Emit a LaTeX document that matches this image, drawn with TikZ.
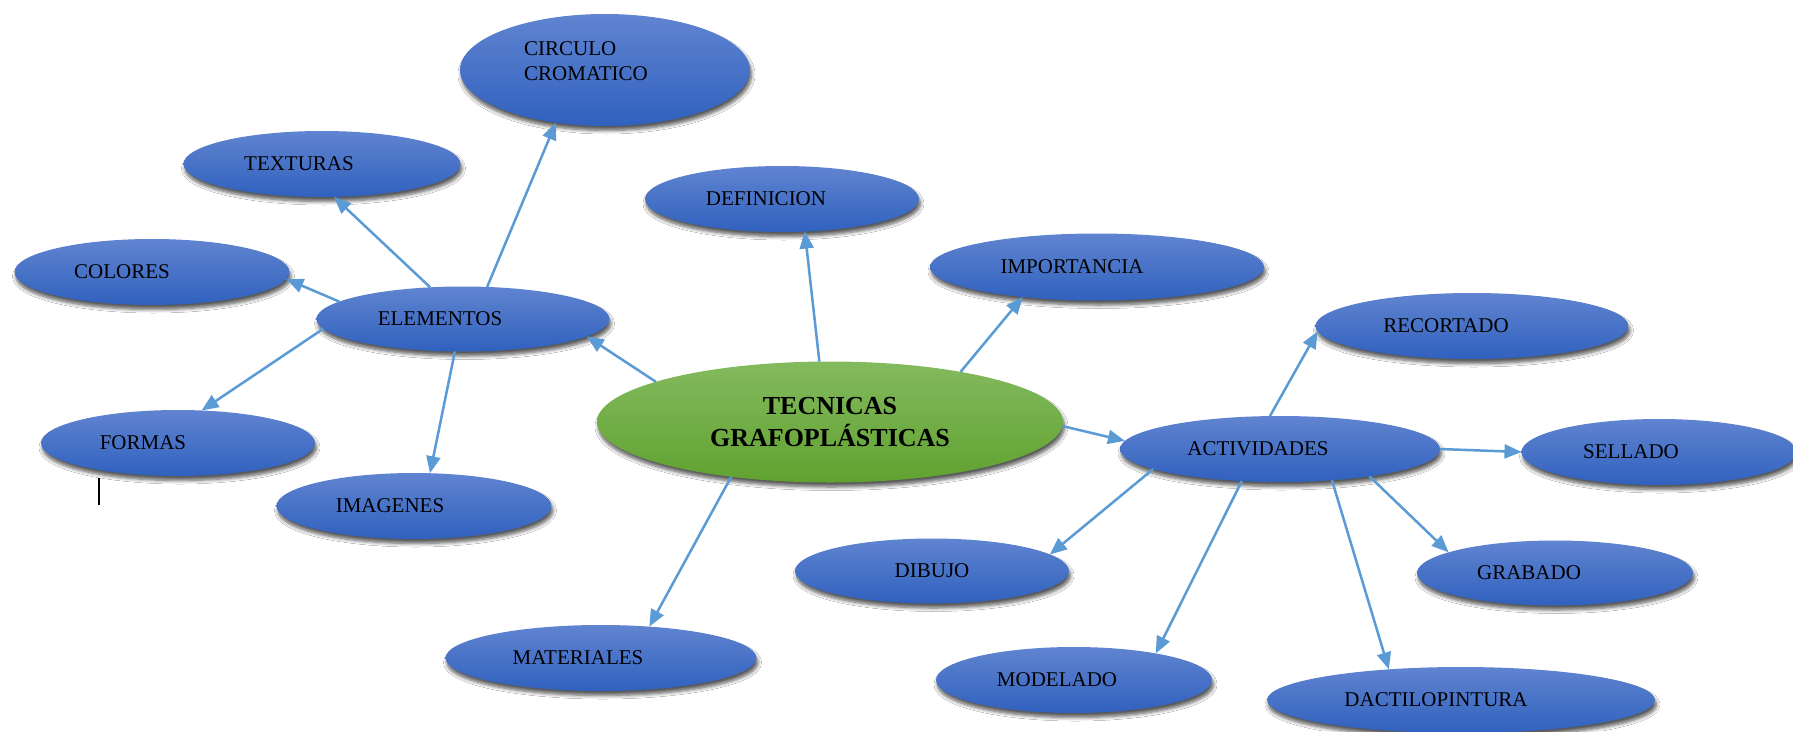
\documentclass[tikz,border=0pt]{standalone}
\usepackage{fontspec}
\setmainfont{Liberation Serif}
\usetikzlibrary{arrows.meta,shapes.geometric,shadows.blur}
\definecolor{bluetop}{RGB}{96,132,208}
\definecolor{bluebot}{RGB}{48,97,190}
\definecolor{greentop}{RGB}{132,186,94}
\definecolor{greenbot}{RGB}{96,162,48}
\definecolor{arrowblue}{RGB}{91,155,213}
\newcommand{\shl}[2]{\hbox to 0pt{\hss #2\kern #1\hss}}
\tikzset{
  concept/.style={ellipse, top color=bluetop, bottom color=bluebot, draw=none,
    inner sep=0pt, outer sep=0pt, text=black, font=\fontsize{21}{25}\selectfont,
    blur shadow={shadow xshift=1.5pt, shadow yshift=-4.5pt, shadow blur steps=6,
      shadow blur radius=3.5pt, shadow opacity=65}},
  central/.style={concept, top color=greentop, bottom color=greenbot,
    font=\bfseries\fontsize{26}{32}\selectfont, align=center},
  link/.style={draw=arrowblue, line width=2.5pt, -{Triangle[length=17pt,width=14pt]}},
}
\begin{document}
\begin{tikzpicture}[x=1pt,y=-1pt]
\useasboundingbox (0,0) rectangle (1793,731);
\fill[white] (0,0) rectangle (1793,731);
% nodes
\node[concept, minimum width=290pt, minimum height=112pt] (circ) at (605,70)
  {\shl{38pt}{\raisebox{7pt}[\height][\depth]{\begin{tabular}{@{}l@{}}CIRCULO\\CROMATICO\end{tabular}}}};
\node[concept, minimum width=277pt, minimum height=66pt] (tex) at (322,164) {\shl{46pt}{TEXTURAS}};
\node[concept, minimum width=274pt, minimum height=66pt] (def) at (782,199) {\shl{32pt}{DEFINICION}};
\node[concept, minimum width=334pt, minimum height=67pt] (imp) at (1097,267) {\shl{50pt}{IMPORTANCIA}};
\node[concept, minimum width=275pt, minimum height=66pt] (col) at (152,272) {\shl{60pt}{COLORES}};
\node[concept, minimum width=293pt, minimum height=65pt] (ele) at (463,319) {\shl{46pt}{ELEMENTOS}};
\node[concept, minimum width=274pt, minimum height=66pt] (for) at (178,443) {\shl{70pt}{FORMAS}};
\node[concept, minimum width=275pt, minimum height=66pt] (ima) at (414,506) {\shl{48pt}{IMAGENES}};
\node[central, minimum width=466pt, minimum height=121pt] (cen) at (830,422) {TECNICAS\\GRAFOPLÁSTICAS};
\node[concept, minimum width=320pt, minimum height=66pt] (act) at (1280,449) {\shl{44pt}{ACTIVIDADES}};
\node[concept, minimum width=313pt, minimum height=66pt] (rec) at (1472,326) {\shl{52pt}{RECORTADO}};
\node[concept, minimum width=275pt, minimum height=66pt] (sel) at (1659,452) {\shl{56pt}{SELLADO}};
\node[concept, minimum width=276pt, minimum height=65pt] (gra) at (1555,573) {\shl{52pt}{GRABADO}};
\node[concept, minimum width=274pt, minimum height=65pt] (dib) at (932,571) {DIBUJO};
\node[concept, minimum width=311pt, minimum height=66pt] (mat) at (601,658) {\shl{46pt}{MATERIALES}};
\node[concept, minimum width=276pt, minimum height=66pt] (mod) at (1074,680) {\shl{34pt}{MODELADO}};
\node[concept, minimum width=388pt, minimum height=66pt] (dac) at (1461,700) {\shl{50pt}{DACTILOPINTURA}};
% connectors
\draw[link] (cen.167.9) -- (ele.-8.5);
\draw[link] (ele.53) -- (circ.227.2);
\draw[link] (ele.136.5) -- (tex.-70);
\draw[link] (ele.172.4) -- (col.-3.9);
\draw[link] (ele.-176.5) -- (for.54);
\draw[link] (ele.256) -- (ima.64.9);
\draw[link] (cen.100.2) -- (def.-55.4);
\draw[link] (cen.21) -- (imp.202.2);
\draw[link] (cen.-1.5) -- (act.177.8);
\draw[link] (cen.209.3) -- (mat.33.2);
\draw[link] (act.107) -- (rec.182.6);
\draw[link] (act.0) -- (sel.180);
\draw[link] (act.-17.6) -- (gra.169.5);
\draw[link] (act.189) -- (dib.8.8);
\draw[link] (act.220.3) -- (mod.18.9);
\draw[link] (act.-31.7) -- (dac.157.4);
% stray text cursor mark
\draw[black, line width=1.2pt] (99,478) -- (99,505);
\end{tikzpicture}
\end{document}
